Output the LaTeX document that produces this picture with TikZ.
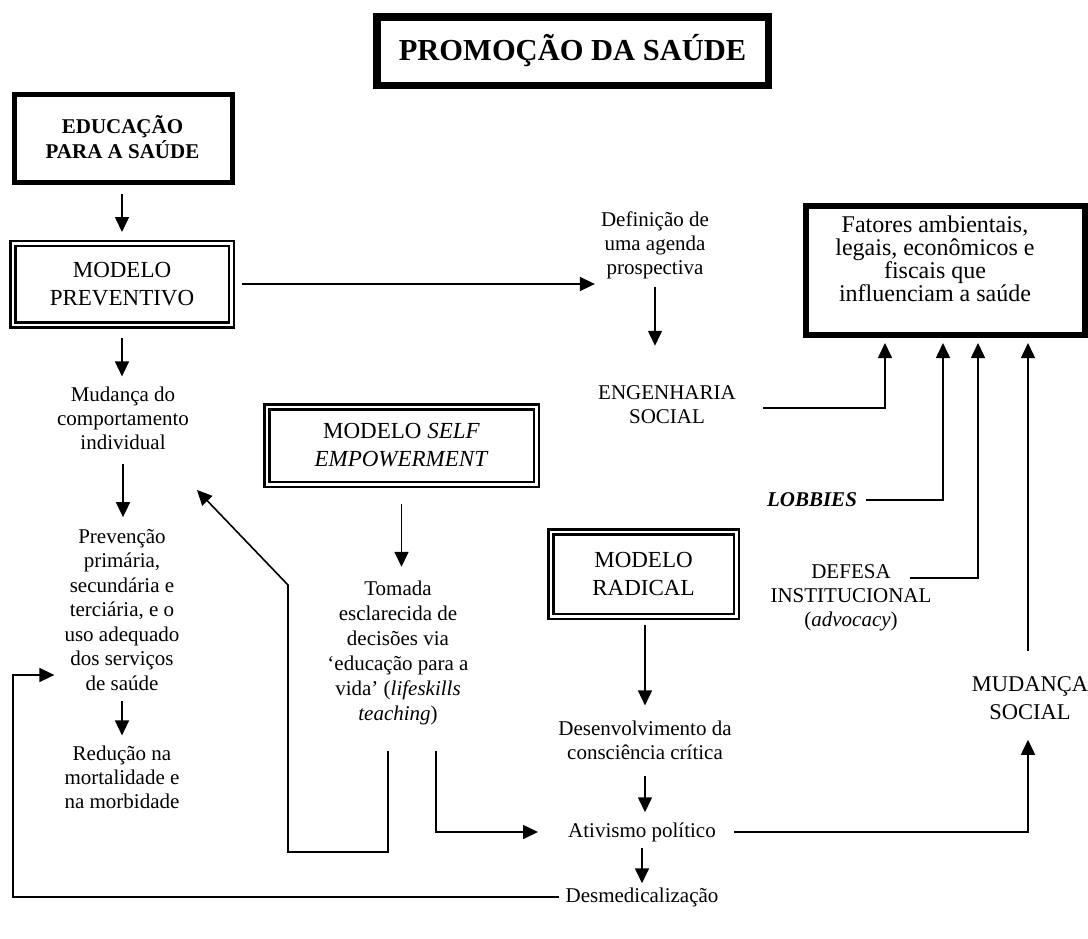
\documentclass[tikz,border=0pt]{standalone}
\usepackage{fontspec}
\setmainfont{Liberation Serif}
\usetikzlibrary{arrows.meta}
\begin{document}
\begin{tikzpicture}[x=1pt,y=-1pt,
  every node/.style={inner sep=0pt, align=center},
  txt/.style={font=\fontsize{21}{24}\selectfont},
  mtxt/.style={font=\fontsize{23}{28}\selectfont},
  con/.style={line width=1.6pt},
  arr/.style={con, -{Triangle[width=14pt,length=15pt]}},
  heavybox/.style={draw, line width=5pt},
  twobox/.style={draw, double, line width=2.5pt, double distance=2.5pt},
]
\useasboundingbox (0,0) rectangle (1088,938);

% column guides for the vertical feeds into the factors box
\coordinate (x885) at (885,0);
\coordinate (x943) at (943,0);
\coordinate (x978) at (978,0);

% title
\node[draw, line width=7pt, minimum width=392pt, minimum height=69pt,
      font=\bfseries\fontsize{30.5}{36}\selectfont] (title) at (572.5,51) {PROMOÇÃO DA SAÚDE};
\draw[line width=2pt] ([shift={(6.5pt,-6.5pt)}]title.north west) rectangle ([shift={(-6.5pt,6.5pt)}]title.south east);

% left column
\node[heavybox, minimum width=218pt, minimum height=88pt] (educ) at (123.5,138.5) {};
\node[font=\bfseries\fontsize{21}{25}\selectfont] (educt) at (122.5,137) {EDUCAÇÃO\\PARA A SAÚDE};
\node[twobox, mtxt, minimum width=218.5pt, minimum height=81.5pt] (prev) at (122,284) {MODELO\\PREVENTIVO};
\node[txt] (mudt) at (123,418) {Mudança do\\comportamento\\individual};
\node[txt, font=\fontsize{21}{24.5}\selectfont] (prevt) at (122,610) {Prevenção\\primária,\\secundária e\\terciária, e o\\uso adequado\\dos serviços\\de saúde};
\node[txt] (redt) at (122,777) {Redução na\\mortalidade e\\na morbidade};

% upper middle
\node[txt] (defin) at (655,245) {Definição de\\uma agenda\\prospectiva};
\node[txt] (eng) at (667,405) {ENGENHARIA\\SOCIAL};

% factors box
\node[draw, line width=6pt, minimum width=279pt, minimum height=129pt] (fat) at (945.5,270.5) {};
\node[font=\fontsize{24}{23}\selectfont] (fatt) at (935,259) {Fatores ambientais,\\legais, econômicos e\\fiscais que\\influenciam a saúde};

% self empowerment
\node[twobox, mtxt, minimum width=269.5pt, minimum height=77.5pt] (self) at (401.5,445.5) {MODELO \textit{SELF}\\\textit{EMPOWERMENT}};
\node[txt, font=\fontsize{21}{25}\selectfont] (tom) at (398,653) {Tomada\\esclarecida de\\decisões via\\‘educação para a\\vida’ (\textit{lifeskills}\\\textit{teaching})};

% radical
\node[twobox, mtxt, minimum width=185.5pt, minimum height=84.5pt] (rad) at (643.5,574) {MODELO\\RADICAL};
\node[txt] (desv) at (645,740) {Desenvolvimento da\\consciência crítica};
\node[txt] (ativ) at (642,832) {Ativismo político};
\node[txt] (desm) at (642,897) {Desmedicalização};

% right side
\node[font=\bfseries\itshape\fontsize{21}{24}\selectfont] (lob) at (812,500) {LOBBIES};
\node[txt] (def) at (851,598) {DEFESA\\INSTITUCIONAL\\(\textit{advocacy})};
\node[txt, font=\fontsize{22.5}{28}\selectfont] (mud) at (1030,698) {MUDANÇA\\SOCIAL};
\coordinate (xmud) at (1028,0);

% connectors: left column
\draw[arr] ([yshift=-9pt]educ.south -| prev.north) -- ([yshift=10pt]prev.north);
\draw[arr] ([xshift=9pt]prev.east) -- ([xshift=-6pt]defin.west |- prev.east);
\draw[arr] ([yshift=-12pt]prev.south) -- ([yshift=10pt]prev.south |- mudt.north);
\draw[arr] ([yshift=-14pt]mudt.south) -- ([yshift=12pt]mudt.south |- prevt.north);
\draw[arr] ([yshift=-10pt]prevt.south) -- ([yshift=10pt]prevt.south |- redt.north);

% connectors: towards the factors box
\draw[arr] ([yshift=-8pt]defin.south) -- ([yshift=40pt]defin.south |- eng.north);
\draw[arr] ([xshift=27pt,yshift=-3pt]eng.east) -| ([yshift=-5pt]fat.south -| x885);
\draw[arr] ([xshift=9pt]lob.east) -| ([yshift=-5pt]fat.south -| x943);
\coordinate (dl) at (910,578);
\draw[arr] (dl) -| ([yshift=-5pt]fat.south -| x978);
\draw[arr] ([yshift=25pt]mud.north -| xmud) -- ([yshift=-5pt]fat.south -| xmud);

% connectors: self empowerment branch
\draw[arr] ([yshift=-18pt]self.south) -- ([yshift=14pt]self.south |- tom.north);
\coordinate (l1) at (388,852);
\coordinate (l2) at (288,852);
\coordinate (l3) at (288,585);
\coordinate (tipd) at (197,490);
\draw[arr] ([yshift=-26pt]tom.south -| l1) -- (l1) -- (l2) -- (l3) -- (tipd);
\coordinate (r1) at (436,0);
\draw[arr] ([yshift=-26pt]tom.south -| r1) |- ([xshift=-30pt]ativ.west);

% connectors: radical branch
\draw[arr] ([yshift=-7pt]rad.south -| desv.north) -- ([yshift=15pt]desv.north);
\draw[arr] ([yshift=-16pt]desv.south) -- ([yshift=10pt]desv.south |- ativ.north);
\draw[arr] ([yshift=-6pt]ativ.south) -- ([yshift=4pt]ativ.south |- desm.north);
\draw[arr] ([xshift=18pt]ativ.east) -| ([yshift=-20pt]mud.south -| xmud);
\coordinate (loopc) at (13,675);
\draw[arr] ([xshift=-6pt]desm.west) -| (loopc) -- ([xshift=-10pt]prevt.west |- loopc);
\end{tikzpicture}
\end{document}
